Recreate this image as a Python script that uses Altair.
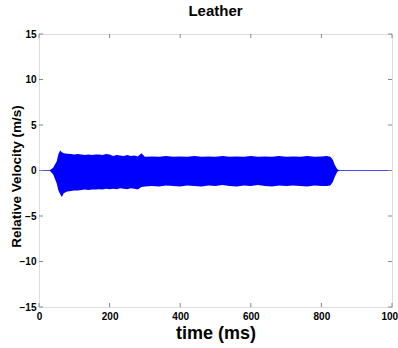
import altair as alt
import pandas as pd

# envelope of the dense velocity signal
env_t = [30, 40, 50, 55, 60, 65, 70, 80, 90, 100, 110, 120, 130, 140, 150, 160, 170, 180, 190, 200,
         210, 220, 230, 240, 250, 260, 270, 280, 290, 300, 320, 340, 360, 380, 400, 420, 440, 460,
         480, 500, 520, 540, 560, 580, 600, 620, 640, 660, 680, 700, 720, 740, 760, 780, 800, 815,
         825, 832, 838, 845, 852]
env_hi = [0.0, 0.3, 1.0, 1.8, 2.2, 2.0, 1.9, 1.85, 1.8, 1.75, 1.8, 1.75, 1.7, 1.75, 1.7, 1.75, 1.75, 1.7, 1.8, 1.75,
          1.6, 1.7, 1.65, 1.6, 1.7, 1.6, 1.65, 1.55, 1.9, 1.5, 1.55, 1.5, 1.6, 1.5, 1.55, 1.5, 1.6, 1.5,
          1.55, 1.5, 1.6, 1.5, 1.55, 1.5, 1.6, 1.5, 1.55, 1.5, 1.6, 1.5, 1.55, 1.5, 1.6, 1.5, 1.55, 1.6,
          1.5, 1.2, 0.6, 0.15, 0.0]
env_lo = [0.0, -0.4, -1.4, -2.2, -2.6, -2.9, -2.5, -2.3, -2.25, -2.2, -2.2, -2.15, -2.1, -2.15, -2.1, -2.1, -2.05, -2.1, -2.0, -2.05,
          -2.0, -2.05, -1.95, -2.0, -2.05, -1.95, -2.0, -2.1, -1.8, -1.75, -1.7, -1.75, -1.65, -1.7, -1.75, -1.65, -1.7, -1.75,
          -1.65, -1.7, -1.6, -1.7, -1.75, -1.65, -1.7, -1.6, -1.7, -1.75, -1.65, -1.7, -1.65, -1.7, -1.75, -1.65, -1.7, -1.7,
          -1.65, -1.3, -0.7, -0.15, 0.0]

base_t = [0, 1000]
base_v = [0, 0]

x_ticks = [0, 200, 400, 600, 800, 1000]
y_ticks = [-15, -10, -5, 0, 5, 10, 15]

env = pd.DataFrame({"t": env_t, "hi": env_hi, "lo": env_lo})
base = pd.DataFrame({"t": base_t, "v": base_v})
xt = pd.DataFrame({"t": x_ticks})
yt = pd.DataFrame({"v": y_ticks})

FONT = "Liberation Sans"
W, H = 353, 273

xs = alt.Scale(domain=[0, 1000], nice=False, zero=False)
ys = alt.Scale(domain=[-15, 15], nice=False, zero=False)

x_axis = alt.Axis(values=x_ticks, format="d", title="time (ms)", grid=False, ticks=False, domain=False,
                  labelFont=FONT, labelFontWeight="bold", labelFontSize=10, labelColor="#000",
                  labelPadding=4, labelFlush=False, labelOverlap=False,
                  titleFont=FONT, titleFontWeight="bold", titleFontSize=18, titleColor="#000",
                  titlePadding=3)
y_axis = alt.Axis(values=y_ticks, format="d", title="Relative Velocity (m/s)", grid=False, ticks=False,
                  domain=False,
                  labelFont=FONT, labelFontWeight="bold", labelFontSize=10, labelColor="#000",
                  labelPadding=3, labelFlush=False, labelOverlap=False,
                  titleFont=FONT, titleFontWeight="bold", titleFontSize=13.5, titleColor="#000",
                  titleX=-23, titleY=142, titleAngle=270, titleAlign="center", titleBaseline="middle")

baseline = alt.Chart(base).mark_line(color="#4a4aff", strokeWidth=1).encode(
    x=alt.X("t:Q", scale=xs, axis=x_axis),
    y=alt.Y("v:Q", scale=ys, axis=y_axis),
)

area = alt.Chart(env).mark_area(color="#0000ff", opacity=1, interpolate="linear").encode(
    x=alt.X("t:Q", scale=xs),
    y=alt.Y("hi:Q", scale=ys),
    y2="lo:Q",
)

tick_color = "#888888"
top_ticks = alt.Chart(xt).mark_rule(color=tick_color, strokeWidth=1).encode(
    x=alt.X("t:Q", scale=xs), y=alt.value(0), y2=alt.value(4))
bot_ticks = alt.Chart(xt).mark_rule(color=tick_color, strokeWidth=1).encode(
    x=alt.X("t:Q", scale=xs), y=alt.value(H), y2=alt.value(H - 4))
left_ticks = alt.Chart(yt).mark_rule(color=tick_color, strokeWidth=1).encode(
    y=alt.Y("v:Q", scale=ys), x=alt.value(0), x2=alt.value(4))
right_ticks = alt.Chart(yt).mark_rule(color=tick_color, strokeWidth=1).encode(
    y=alt.Y("v:Q", scale=ys), x=alt.value(W), x2=alt.value(W - 4))

chart = alt.layer(baseline, area, top_ticks, bot_ticks, left_ticks, right_ticks).properties(
    width=W, height=H,
    title=alt.TitleParams("Leather", font=FONT, fontWeight="bold", fontSize=15, color="#000",
                          anchor="middle", offset=10),
    autosize=alt.AutoSizeParams(type="none"),
    padding={"left": 39, "top": 34, "right": 6, "bottom": 41},
).configure_view(stroke="#888888", strokeWidth=1).configure(background="white")

chart.save("out.html", embed_options={"renderer": "svg", "actions": False})
